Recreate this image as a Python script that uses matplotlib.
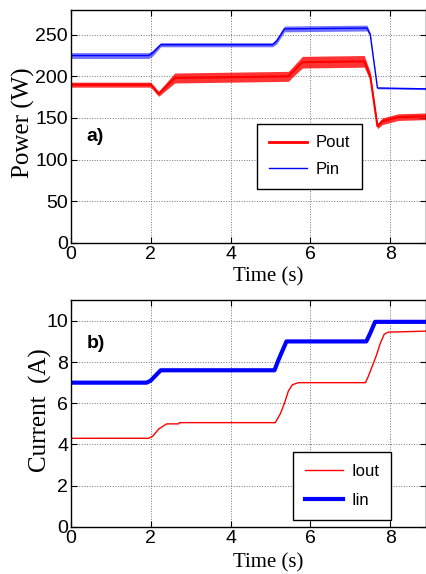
import numpy as np
import matplotlib as mpl
import matplotlib.pyplot as plt

# ── Data ─────────────────────────────────────────────────────────────────────
# a) power: centre line + half-width of the noise band
T_PIN = [0, 1.95, 2.05, 2.25, 5.05, 5.15, 5.35, 7.42, 7.5, 7.68, 8.9]
PIN = [225, 225, 228, 238, 238, 242, 257, 258, 250, 186, 185]
PIN_NOISE = [3.5, 3.5, 3.5, 2.5, 2.5, 3.5, 3.5, 3.5, 2, 1, 1]

T_POUT = [0, 2.0, 2.2, 2.6, 5.45, 5.55, 5.8, 7.35, 7.5, 7.68, 7.8, 8.2, 8.9]
POUT = [190, 190, 179, 198, 200, 205, 217, 218, 200, 140, 146, 151, 152]
POUT_NOISE = [3, 3, 3, 6, 6, 6, 7, 7, 5, 3, 4, 4, 4]

# b) currents
T_IIN = [0, 1.9, 2.0, 2.25, 5.1, 5.2, 5.4, 7.4, 7.5, 7.62, 8.9]
IIN = [7.0, 7.0, 7.1, 7.6, 7.6, 8.1, 9.0, 9.0, 9.4, 9.95, 9.95]

T_IOUT = [0, 1.95, 2.05, 2.2, 2.4, 2.7, 2.72, 5.12, 5.25, 5.35, 5.45, 5.55,
          5.7, 7.38, 7.45, 7.55, 7.65, 7.75, 7.85, 7.95, 8.9]
IOUT = [4.3, 4.3, 4.4, 4.75, 5.0, 5.0, 5.06, 5.06, 5.5, 6.0, 6.6, 6.9,
        7.0, 7.0, 7.3, 7.8, 8.3, 8.9, 9.35, 9.45, 9.5]

X_TICKS = [0, 2, 4, 6, 8]
P_TICKS = [0, 50, 100, 150, 200, 250]
I_TICKS = [0, 2, 4, 6, 8, 10]

RED = "#ff0000"
BLUE = "#0000ff"

# ── Style ────────────────────────────────────────────────────────────────────
NARROW = ["Liberation Sans Narrow", "Liberation Sans", "DejaVu Sans"]
SERIF = ["Liberation Serif", "DejaVu Serif"]
mpl.rcParams.update({
    "font.family": NARROW,
    "xtick.labelsize": 14,
    "ytick.labelsize": 14,
    "xtick.direction": "in",
    "ytick.direction": "in",
    "xtick.top": True,
    "ytick.right": True,
    "xtick.major.size": 4,
    "ytick.major.size": 4,
    "xtick.major.pad": 2,
    "ytick.major.pad": 2,
    "axes.linewidth": 1.0,
})


def _style(ax, ylim, yticks):
    ax.set_xlim(0, 8.9)
    ax.set_ylim(*ylim)
    ax.set_xticks(X_TICKS)
    ax.set_yticks(yticks)
    ax.grid(True, ls=":", color="0.45", lw=0.7)
    ax.set_axisbelow(True)


def _band(ax, t, mid, half, color, lw, alpha):
    mid = np.asarray(mid, float)
    half = np.asarray(half, float)
    ax.fill_between(t, mid - half, mid + half, color=color, lw=0, alpha=alpha)
    ax.plot(t, mid, color=color, lw=lw)


def _legend(ax, loc, anchor, spacing):
    leg = ax.legend(loc=loc, bbox_to_anchor=anchor, borderaxespad=0,
                    fontsize=12, handlelength=2.3, labelspacing=spacing,
                    fancybox=False, edgecolor="black", framealpha=1,
                    borderpad=0.7, handletextpad=0.5)
    leg.get_frame().set_linewidth(1.0)


fig = plt.figure(figsize=(4.27, 5.74), dpi=100)
ax_a = fig.add_axes([0.166, 0.577, 0.832, 0.406])
ax_b = fig.add_axes([0.166, 0.082, 0.832, 0.395])

# ── a) power ────────────────────────────────────────────────────────────────
_band(ax_a, T_POUT, POUT, POUT_NOISE, RED, 1.5, 0.8)
_band(ax_a, T_PIN, PIN, PIN_NOISE, BLUE, 1.0, 0.55)
ax_a.plot([], [], color=RED, lw=2.0, label="Pout")
ax_a.plot([], [], color=BLUE, lw=1.0, label="Pin")
_style(ax_a, (0, 280), P_TICKS)
_legend(ax_a, "upper left", (0.524, 0.511), 0.7)
ax_a.text(0.045, 0.455, "a)", transform=ax_a.transAxes, fontsize=14,
          fontweight="bold", ha="left", va="center")
ax_a.text(0.555, -0.147, "Time (s)", transform=ax_a.transAxes,
          family=SERIF, fontsize=15, ha="center", va="center")
fig.text(0.054, 0.787, "Power (W)", family=SERIF, fontsize=18,
         rotation=90, ha="center", va="center")

# ── b) current ──────────────────────────────────────────────────────────────
ax_b.plot(T_IOUT, IOUT, color=RED, lw=1.0, label="Iout")
ax_b.plot(T_IIN, IIN, color=BLUE, lw=3.0, label="Iin")
_style(ax_b, (0, 11), I_TICKS)
_legend(ax_b, "lower left", (0.625, 0.031), 0.85)
ax_b.text(0.045, 0.81, "b)", transform=ax_b.transAxes, fontsize=14,
          fontweight="bold", ha="left", va="center")
ax_b.text(0.555, -0.16, "Time (s)", transform=ax_b.transAxes,
          family=SERIF, fontsize=15, ha="center", va="center")
fig.text(0.094, 0.285, "Current  (A)", family=SERIF, fontsize=18,
         rotation=90, ha="center", va="center")

fig.savefig("out.png", dpi=100)
